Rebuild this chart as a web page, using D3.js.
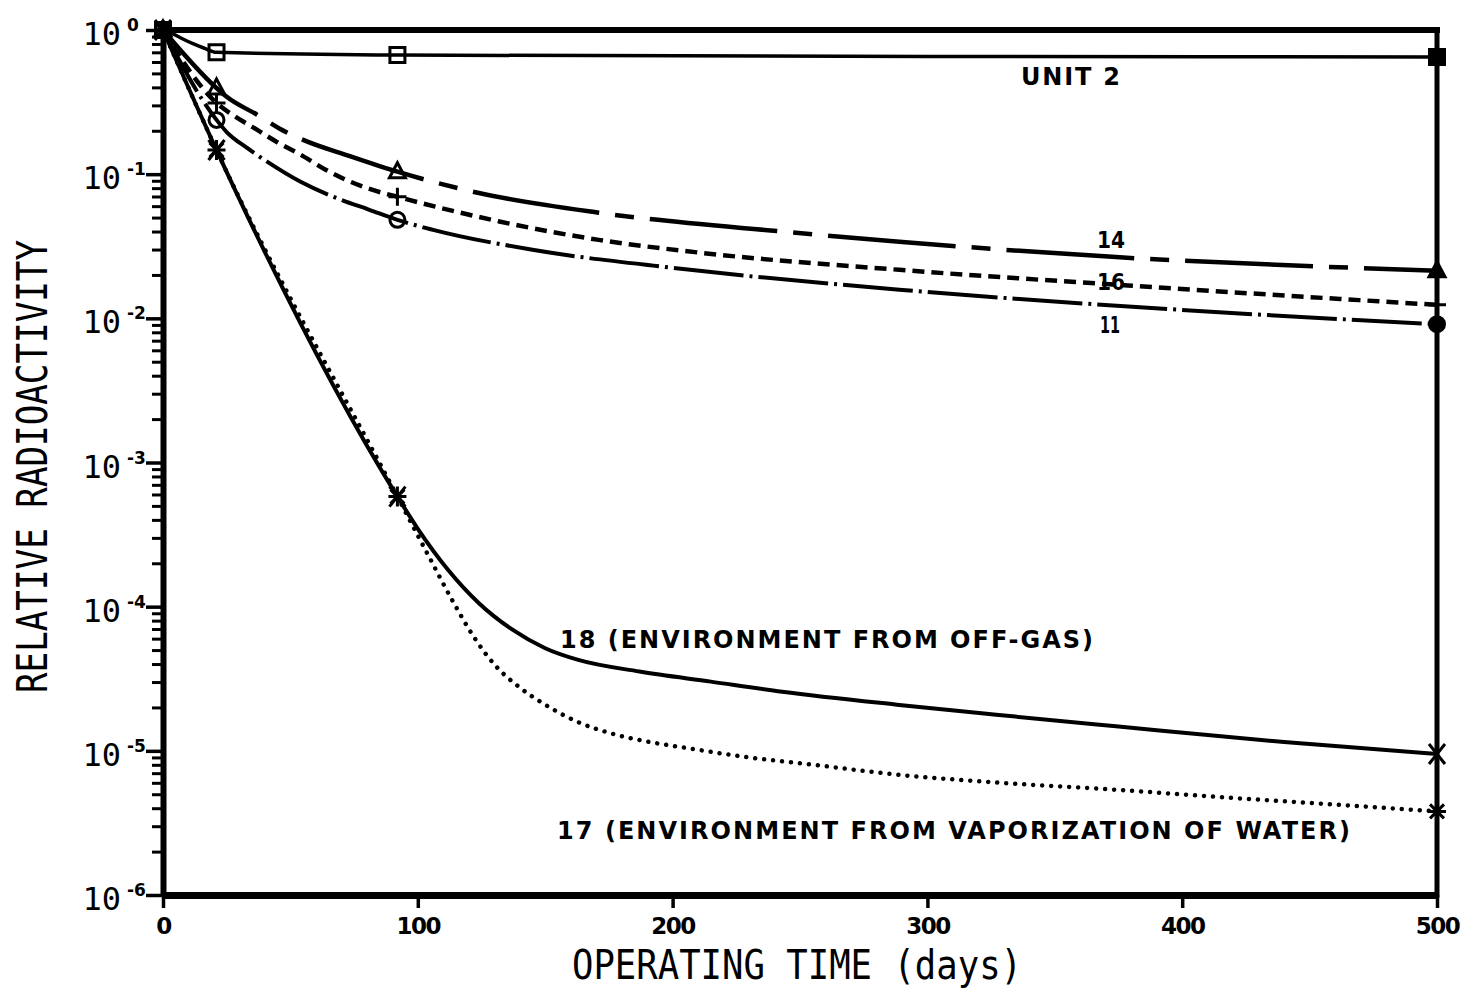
<!DOCTYPE html>
<html>
<head>
<meta charset="utf-8">
<script src="https://cdn.jsdelivr.net/npm/d3@7"></script>
<style>
  html, body { margin: 0; padding: 0; background: #fff; }
  svg { display: block; }
</style>
</head>
<body>
<svg id="chart" width="1466" height="989"></svg>
<script>
// Axis ticks
const dayTicks = [0, 100, 200, 300, 400, 500];
const decadeExponents = [0, -1, -2, -3, -4, -5, -6];
const markerDays = [0, 21, 92, 500];

// Relative radioactivity vs operating time, [day, value]
const unit2 = [[0, 1], [3, 0.96], [7, 0.88], [12, 0.80], [16, 0.75], [21, 0.70], [92, 0.67],
               [300, 0.655], [500, 0.65]];
const curve14 = [[0, 1], [21, 0.396], [25, 0.344], [37, 0.258], [46, 0.206], [55, 0.173], [73, 0.134],
                 [92, 0.104], [124, 0.074], [171, 0.054], [243, 0.040], [289, 0.034], [374, 0.0266],
                 [500, 0.0214]];
const curve16 = [[0, 1], [21, 0.312], [28, 0.253], [35, 0.213], [45, 0.166], [54, 0.1365], [64, 0.107],
                 [72, 0.091], [82, 0.078], [92, 0.0697], [132, 0.047], [171, 0.035], [211, 0.0285],
                 [289, 0.0217], [374, 0.0171], [500, 0.0124]];
const curve11 = [[0, 1], [21, 0.238], [25, 0.196], [33, 0.152], [41, 0.1216], [54, 0.0885], [69.5, 0.0668],
                 [81, 0.0566], [92, 0.0482], [106, 0.0411], [145, 0.0299], [200, 0.0224], [289, 0.0158],
                 [388, 0.0118], [500, 0.0091]];
const curve18 = [[0, 1], [21, 0.147], [92, 5.8e-4], [100, 3.47e-4], [112, 1.79e-4], [124, 1.057e-4],
                 [137, 6.95e-5], [150, 5.15e-5], [163, 4.27e-5], [187, 3.55e-5], [215, 3.02e-5],
                 [243, 2.57e-5], [288, 2.09e-5], [327, 1.78e-5], [374, 1.48e-5], [440, 1.15e-5],
                 [500, 9.5e-6]];
const curve17 = [[0, 1], [21, 0.147], [92, 5.8e-4], [104, 2.29e-4], [114, 1.07e-4], [122, 6.17e-5],
                 [130, 3.98e-5], [140, 2.75e-5], [150, 2.09e-5], [163, 1.58e-5], [176, 1.32e-5],
                 [190, 1.16e-5], [205, 1.05e-5], [228, 9.1e-6], [258, 7.9e-6], [288, 6.84e-6],
                 [327, 6.03e-6], [374, 5.37e-6], [414, 4.79e-6], [466, 4.17e-6], [500, 3.8e-6]];

// Curve labels
const labelUnit2 = "UNIT 2";
const label14 = "14";
const label16 = "16";
const label11 = "11";
const label18 = "18 (ENVIRONMENT  FROM  OFF-GAS)";
const label17 = "17 (ENVIRONMENT  FROM  VAPORIZATION  OF  WATER)";
const xTitle = "OPERATING TIME (days)";
const yTitle = "RELATIVE RADIOACTIVITY";

const ink = "#000";
const svg = d3.select("#chart");

const x = d3.scaleLinear().domain([0, 500]).range([163, 1437]);
const y = d3.scaleLog().domain([1e-6, 1]).range([895, 30]);

// Series styling table
const series = [
  { data: unit2,   dash: null,           width: 3.5, cap: "butt",  marker: "square" },
  { data: curve14, dash: "128,16,19,16", width: 4.5, cap: "butt",  marker: "triangle" },
  { data: curve16, dash: "12,7",         width: 4.5, cap: "butt",  marker: "plus" },
  { data: curve11, dash: "70,6,3,6",     width: 4,   cap: "butt",  marker: "circle" },
  { data: curve18, dash: null,           width: 4,   cap: "butt",  marker: "times" },
  { data: curve17, dash: "0.01,9",       width: 4.5, cap: "round", marker: "asterisk" }
];

// ---- Y axis: minor and decade ticks on the left edge ----
const decadeValues = decadeExponents.map(e => Math.pow(10, e));
const minorValues = [];
for (let e = -6; e <= -1; e++) {
  for (let k = 2; k <= 9; k++) minorValues.push(k * Math.pow(10, e));
}

svg.append("g")
  .attr("transform", `translate(${x(0)},0)`)
  .call(d3.axisLeft(y).tickValues(minorValues).tickSize(11).tickSizeOuter(0).tickFormat(""))
  .call(g => g.select(".domain").remove())
  .call(g => g.selectAll(".tick line").attr("stroke", ink).attr("stroke-width", 3));

svg.append("g")
  .attr("transform", `translate(${x(0)},0)`)
  .call(d3.axisLeft(y).tickValues(decadeValues).tickSize(17).tickSizeOuter(0).tickFormat(""))
  .call(g => g.select(".domain").attr("stroke", ink).attr("stroke-width", 6))
  .call(g => g.selectAll(".tick line").attr("stroke", ink).attr("stroke-width", 3.5));

// Decade labels: 10 with superscript exponent
const yLabels = svg.append("g");
decadeExponents.forEach(e => {
  const yy = y(Math.pow(10, e));
  yLabels.append("text")
    .attr("x", 121).attr("y", yy + 15)
    .attr("text-anchor", "end")
    .attr("font-family", "DejaVu Sans Mono")
    .attr("font-size", 32)
    .attr("fill", ink)
    .text("10");
  yLabels.append("text")
    .attr("x", 127).attr("y", yy + 1)
    .attr("font-family", "DejaVu Sans")
    .attr("font-weight", "bold")
    .attr("font-size", 17)
    .attr("fill", ink)
    .text(e === 0 ? "0" : "-" + Math.abs(e));
});

// ---- X axis ----
const xAxis = svg.append("g")
  .attr("transform", `translate(0,${y(1e-6)})`)
  .call(d3.axisBottom(x).tickValues(dayTicks).tickSize(13).tickSizeOuter(0).tickFormat(d3.format("d")));
xAxis.select(".domain").attr("stroke", ink).attr("stroke-width", 7);
xAxis.selectAll(".tick line").attr("stroke", ink).attr("stroke-width", 3.5);
xAxis.selectAll(".tick text")
  .attr("y", 39).attr("dy", 0)
  .attr("fill", ink)
  .attr("font-family", "DejaVu Sans")
  .attr("font-weight", "bold")
  .attr("font-size", 23)
  .attr("letter-spacing", -1.5);

// Frame top and right
svg.append("line")
  .attr("x1", x(0)).attr("x2", x(500)).attr("y1", y(1)).attr("y2", y(1))
  .attr("stroke", ink).attr("stroke-width", 6).attr("stroke-linecap", "square");
svg.append("line")
  .attr("x1", x(500)).attr("x2", x(500)).attr("y1", y(1)).attr("y2", y(1e-6))
  .attr("stroke", ink).attr("stroke-width", 5).attr("stroke-linecap", "square");

// ---- Curves ----
const line = d3.line()
  .x(d => x(d[0]))
  .y(d => y(d[1]))
  .curve(d3.curveMonotoneX);

const curves = svg.append("g").attr("fill", "none").attr("stroke", ink);
series.forEach(s => {
  const p = curves.append("path")
    .attr("d", line(s.data))
    .attr("stroke-width", s.width)
    .attr("stroke-linecap", s.cap)
    .attr("stroke-linejoin", "round");
  if (s.dash) p.attr("stroke-dasharray", s.dash);
});

// ---- Markers (solid where they sit on the right-hand frame) ----
const markerPaths = {
  square:   "M-7.5,-7.5H7.5V7.5H-7.5Z",
  triangle: "M0,-9L8,6L-8,6Z",
  plus:     "M-9,0H9M0,-9V9",
  times:    "M-8,-10L8,10M8,-10L-8,10",
  asterisk: "M-9,0H9M0,-10V10M-7,-7L7,7M7,-7L-7,7"
};
const marks = svg.append("g").attr("stroke", ink).attr("stroke-width", 3);
series.forEach(s => {
  s.data.filter(d => markerDays.includes(d[0])).forEach(d => {
    const cx = x(d[0]), cy = y(d[1]);
    const fill = d[0] === 500 ? ink : "none";
    if (s.marker === "circle") {
      marks.append("circle").attr("cx", cx).attr("cy", cy).attr("r", 7.5).attr("fill", fill);
    } else {
      marks.append("path")
        .attr("transform", `translate(${cx},${cy})`)
        .attr("fill", fill)
        .attr("d", markerPaths[s.marker]);
    }
  });
});

// ---- Curve labels ----
const lab = svg.append("g")
  .attr("fill", ink)
  .attr("font-family", "DejaVu Sans")
  .attr("font-weight", "bold")
  .style("white-space", "pre");

function addLabel(txt, lx, ly, len, size, adjust) {
  lab.append("text")
    .attr("x", lx).attr("y", ly)
    .attr("font-size", size)
    .attr("textLength", len)
    .attr("lengthAdjust", adjust || "spacing")
    .text(txt);
}
addLabel(labelUnit2, 1021, 85, 99, 24);
addLabel(label14, 1097, 248, 28, 23, "spacingAndGlyphs");
addLabel(label16, 1097, 290, 28, 23, "spacingAndGlyphs");
addLabel(label11, 1100, 333, 20, 23, "spacingAndGlyphs");
addLabel(label18, 560, 648, 533, 24);
addLabel(label17, 557, 839, 793, 24);

// ---- Axis titles ----
svg.append("text")
  .attr("transform", "translate(572,979) scale(1,1.15)")
  .attr("font-family", "DejaVu Sans Mono")
  .attr("font-size", 36)
  .attr("textLength", 450)
  .attr("lengthAdjust", "spacingAndGlyphs")
  .attr("fill", ink)
  .text(xTitle);

svg.append("text")
  .attr("transform", "translate(47,693) rotate(-90)")
  .attr("font-family", "DejaVu Sans Mono")
  .attr("font-size", 42)
  .attr("textLength", 453)
  .attr("lengthAdjust", "spacingAndGlyphs")
  .attr("fill", ink)
  .text(yTitle);
</script>
</body>
</html>
